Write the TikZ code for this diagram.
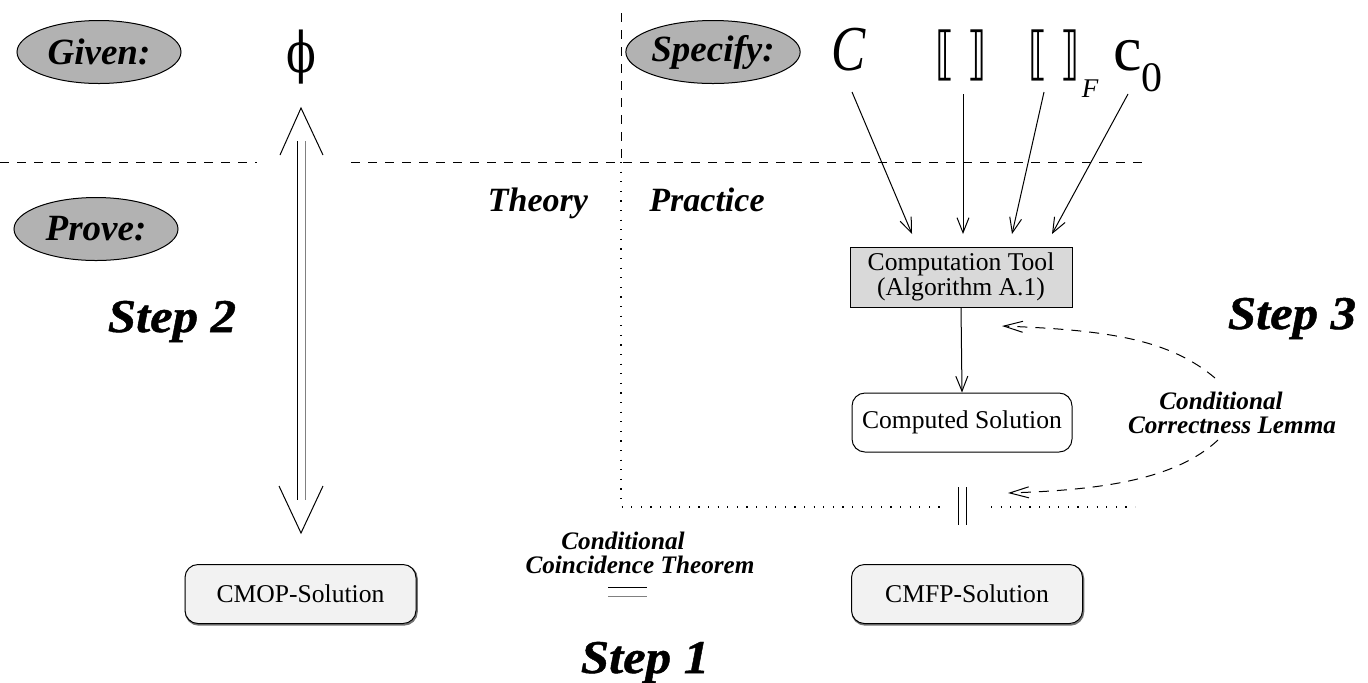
\documentclass[tikz,border=0pt]{standalone}
\usepackage{fontspec}
\setmainfont{Liberation Serif}
\newfontfamily\djsans{DejaVu Sans}
\newfontfamily\djserif{DejaVu Serif}
\newfontfamily\stepfont[FakeStretch=1.08,FakeBold=1]{Liberation Serif}
\usetikzlibrary{shapes.geometric,arrows.meta}
\definecolor{ovalgray}{gray}{0.7}
\definecolor{toolgray}{gray}{0.85}
\definecolor{solfill}{gray}{0.95}
\definecolor{linegray}{gray}{0.5}
\tikzset{
  oval/.style={ellipse, draw, line width=0.5pt, fill=ovalgray, minimum width=82pt, minimum height=31.5pt, inner sep=0pt, font=\fontsize{18.5}{20}\selectfont\bfseries\itshape},
  steplabel/.style={font=\stepfont\fontsize{23.5}{25}\selectfont\bfseries\itshape, anchor=base, inner sep=0pt},
  sidelabel/.style={font=\fontsize{17}{19}\selectfont\bfseries\itshape, anchor=base, inner sep=0pt},
  lemma/.style={font=\fontsize{12.6}{12.2}\selectfont\bfseries\itshape, align=center, inner sep=0pt},
  toolbox/.style={draw, line width=0.5pt, fill=toolgray, minimum width=111pt, minimum height=30pt, align=center, font=\fontsize{12.8}{12.5}\selectfont, inner sep=0pt},
  solbox/.style={draw, line width=0.5pt, rounded corners=6.5pt, minimum height=29.5pt, font=\fontsize{12.8}{14}\selectfont, inner sep=0pt},
  shadowed/.style={fill=solfill, preaction={draw=black!55, line width=1pt, transform canvas={shift={(0.4pt,-0.6pt)}}}},
  arr/.style={-{Straight Barb[length=7.5pt,width=6pt]}, line width=0.5pt},
  dasharr/.style={dash pattern=on 5pt off 4pt, -{Straight Barb[length=9.5pt,width=5.5pt]}, line width=0.5pt},
  dashline/.style={dash pattern=on 4.5pt off 4pt, line width=0.5pt},
  dotline/.style={dash pattern=on 0.6pt off 4.2pt, line width=0.6pt},
  plain/.style={line width=0.5pt},
  symb/.style={inner sep=0pt}
}
\begin{document}
\begin{tikzpicture}[x=0.5pt,y=-0.5pt]
\useasboundingbox (0,0) rectangle (1368,682);

% ovals
\node[oval] (given) at (99,52) {Given:};
\node[oval] (specify) at (713,52) {Specify:};
\node[oval] (prove) at (96,229) {Prove:};

% symbols
\node[symb, font=\djserif\fontsize{28}{28}\selectfont] (phi) at (301,57) {\scalebox{0.78}[1]{ϕ}};
\node[symb, font=\fontsize{32}{32}\selectfont\itshape] (cin) at (849,50) {\scalebox{0.8}[1]{C}};
\node[symb, font=\djsans\fontsize{23}{23}\selectfont] (br1) at (961,55) {\scalebox{0.85}[1.25]{⟦\,\,⟧}};
\node[symb, font=\djsans\fontsize{23}{23}\selectfont] (br2) at (1054,55) {\scalebox{0.85}[1.25]{⟦\,\,⟧}};
\node[symb, font=\fontsize{13.5}{13.5}\selectfont\itshape] (fsub) at (1090,89) {F};
\node[symb, font=\fontsize{32}{32}\selectfont] (c0) at (1138,66) {c\raisebox{-0.32em}{\fontsize{21}{21}\selectfont 0}};

% dashed separators
\coordinate (vd1) at (621,13); \coordinate (vd2) at (621,162);
\draw[dashline] (vd1) -- (vd2);
\coordinate (hd1) at (0,162); \coordinate (hd2) at (257,162);
\coordinate (hd3) at (351,162); \coordinate (hd4) at (1145,162);
\draw[dashline] (hd1) -- (hd2);
\draw[dashline] (hd3) -- (hd4);

% dotted separators
\coordinate (dc) at (621,507); \coordinate (dl) at (941,507);
\coordinate (dr1) at (991,507); \coordinate (dr2) at (1135,507);
\draw[dotline] (vd2) -- (dc) -- (dl);
\draw[dotline] (dr1) -- (dr2);

% theory / practice
\node[sidelabel] (theory) at (538,211) {Theory};
\node[sidelabel] (practice) at (707,211) {Practice};

% double arrow (step 2)
\coordinate (da1t) at (297,141); \coordinate (da1b) at (297,500);
\coordinate (da2t) at (305,141); \coordinate (da2b) at (305,500);
\draw[plain] (da1t) -- (da1b);
\draw[plain, draw=linegray] (da2t) -- (da2b);
\coordinate (ht) at (301,108); \coordinate (htl) at (280,155); \coordinate (htr) at (323,155);
\coordinate (hb) at (301,533); \coordinate (hbl) at (279,486); \coordinate (hbr) at (323,486);
\draw[plain] (htl) -- (ht) -- (htr);
\draw[plain] (hbl) -- (hb) -- (hbr);

% step labels
\node[steplabel] (step2) at (172,332) {Step 2};
\node[steplabel] (step3) at (1292,329) {Step 3};
\node[steplabel] (step1) at (645,673) {Step 1};

% tool and solution boxes
\node[toolbox] (tool) at (961,277) {Computation Tool\\(Algorithm A.1)};
\node[solbox, fill=white, minimum width=110pt] (computed) at (962,422.5) {Computed Solution};
\node[solbox, shadowed, minimum width=115.5pt] (cmop) at (300.5,594) {CMOP-Solution};
\node[solbox, shadowed, minimum width=115.5pt] (cmfp) at (967,594) {CMFP-Solution};

% input arrows
\coordinate (s1) at (852,92);  \coordinate (e1) at (912,234);
\coordinate (s2) at (963,94);  \coordinate (e2) at (963,234);
\coordinate (s3) at (1044,92); \coordinate (e3) at (1012,234);
\coordinate (s4) at (1128,94); \coordinate (e4) at (1052,234);
\draw[arr] (s1) -- (e1);
\draw[arr] (s2) -- (e2);
\draw[arr] (s3) -- (e3);
\draw[arr] (s4) -- (e4);
\draw[arr] (tool.south) -- (computed.north);

% equality signs
\coordinate (eq1a) at (958,487); \coordinate (eq1b) at (958,525);
\coordinate (eq2a) at (966,487); \coordinate (eq2b) at (966,525);
\draw[plain] (eq1a) -- (eq1b);
\draw[plain] (eq2a) -- (eq2b);
\coordinate (eh1a) at (608,587); \coordinate (eh1b) at (647,587);
\coordinate (eh2a) at (608,596); \coordinate (eh2b) at (647,596);
\draw[plain] (eh1a) -- (eh1b);
\draw[plain, draw=linegray] (eh2a) -- (eh2b);

% lemma labels
\node[lemma] (ccl) at (1232,413) {Conditional\hspace*{11pt}\\Correctness Lemma};
\node[lemma] (cct) at (640,553) {Conditional\hspace*{17pt}\\Coincidence Theorem};

% dashed curved arrows
\coordinate (l1s) at (1215,378); \coordinate (l1e) at (1002,326);
\draw[dasharr] (l1s) .. controls (1170,340) and (1110,330) .. (l1e);
\coordinate (l2s) at (1218,440); \coordinate (l2e) at (1008,493);
\draw[dasharr] (l2s) .. controls (1175,480) and (1100,490) .. (l2e);
\end{tikzpicture}
\end{document}
